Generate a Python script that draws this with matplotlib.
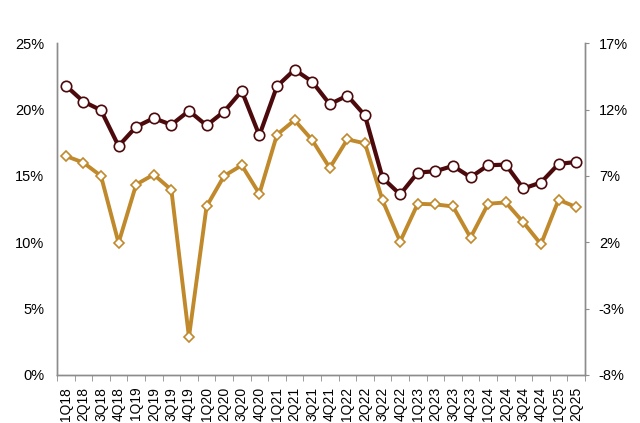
import numpy as np
import matplotlib
matplotlib.use('Agg')
import matplotlib.pyplot as plt
from matplotlib.ticker import FuncFormatter, MultipleLocator

plt.rcParams['font.family'] = ['Liberation Sans', 'DejaVu Sans']

quarters = ['1Q18', '2Q18', '3Q18', '4Q18', '1Q19', '2Q19', '3Q19', '4Q19',
            '1Q20', '2Q20', '3Q20', '4Q20', '1Q21', '2Q21', '3Q21', '4Q21',
            '1Q22', '2Q22', '3Q22', '4Q22', '1Q23', '2Q23', '3Q23', '4Q23',
            '1Q24', '2Q24', '3Q24', '4Q24', '1Q25', '2Q25']

# left axis series (%)
dark_vals = [21.8, 20.6, 19.95, 17.25, 18.7, 19.35, 18.85, 19.9, 18.8, 19.85,
             21.4, 18.05, 21.75, 23.0, 22.1, 20.4, 21.05, 19.55, 14.85, 13.6,
             15.25, 15.35, 15.75, 14.9, 15.8, 15.85, 14.05, 14.5, 15.9, 16.05]

# right axis series (%)
gold_vals = [8.5, 8.0, 7.0, 1.95, 6.35, 7.1, 5.95, -5.15, 4.7, 7.0,
             7.8, 5.65, 10.1, 11.2, 9.7, 7.6, 9.75, 9.45, 5.15, 2.05,
             4.9, 4.85, 4.7, 2.35, 4.9, 5.0, 3.5, 1.85, 5.2, 4.65]

dark_color = '#4d0a0c'
gold_color = '#c0892b'
axis_color = '#8c8c8c'

fig = plt.figure(figsize=(6.4, 4.23), dpi=100)
ax_1 = fig.add_axes([0.089, 0.1135, 0.825, 0.7845])
ax_2 = ax_1.twinx()

x = np.arange(len(quarters))

ax_2.plot(x, gold_vals, color=gold_color, linewidth=2.8, marker='D',
          markersize=5, markerfacecolor='white', markeredgecolor=gold_color,
          markeredgewidth=1.2, zorder=3)
ax_1.plot(x, dark_vals, color=dark_color, linewidth=3.0, marker='o',
          markersize=7.5, markerfacecolor='white', markeredgecolor=dark_color,
          markeredgewidth=1.2, zorder=3)

# dark line on top of gold
ax_1.set_zorder(ax_2.get_zorder() + 1)
ax_1.patch.set_visible(False)

ax_1.set_xlim(-0.5, len(quarters) - 0.5)
ax_1.set_ylim(0, 25)
ax_2.set_ylim(-8, 17)

ax_1.yaxis.set_major_locator(MultipleLocator(5))
ax_2.set_yticks([-8, -3, 2, 7, 12, 17])
ax_1.yaxis.set_major_formatter(FuncFormatter(lambda v, loc: '{:d}%'.format(int(round(v)))))
ax_2.yaxis.set_major_formatter(FuncFormatter(lambda v, loc: '{:d}%'.format(int(round(v)))))

ax_1.set_xticks(x)
ax_1.set_xticklabels(quarters, rotation=90, fontsize=10, va='top')
ax_1.set_xticks(np.arange(-0.5, len(quarters)), minor=True)
ax_1.tick_params(axis='x', which='major', length=0, pad=8.5, colors='black')
ax_1.tick_params(axis='x', which='minor', length=4, color=axis_color, direction='out')
ax_1.tick_params(axis='y', which='major', labelsize=10.5, length=0, pad=9)
ax_2.tick_params(axis='y', which='major', labelsize=10.5, length=3, color=axis_color,
                 direction='out', pad=7)

for ax in (ax_1, ax_2):
    ax.spines['top'].set_visible(False)
    for side in ('left', 'right', 'bottom'):
        ax.spines[side].set_color(axis_color)
        ax.spines[side].set_linewidth(1.0)

fig.savefig('out.png', dpi=100)
